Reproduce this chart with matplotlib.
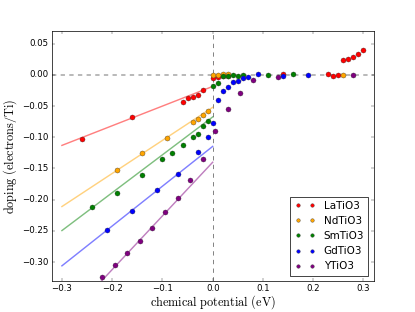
import numpy as np
import matplotlib
matplotlib.use('Agg')
import matplotlib.pyplot as plt

plt.style.use('classic')
plt.rcParams['mathtext.fontset'] = 'cm'

names = ['LaTiO3', 'NdTiO3', 'SmTiO3', 'GdTiO3', 'YTiO3']
colors = ['red', 'orange', 'green', 'blue', 'purple']

mu_la = [-0.26, -0.16, -0.06, -0.05, -0.04, -0.03, -0.02, 0.0, 0.01, 0.02, 0.03,
         0.14, 0.23, 0.24, 0.25, 0.26, 0.27, 0.28, 0.29, 0.30]
dop_la = [-0.103, -0.068, -0.043, -0.037, -0.036, -0.032, -0.025, -0.005, -0.003, -0.002, -0.001,
          0.001, 0.001, -0.001, 0.0, 0.0235, 0.025, 0.029, 0.033, 0.040]

mu_nd = [-0.19, -0.14, -0.09, -0.04, -0.03, -0.02, -0.01, 0.0, 0.01, 0.02, 0.03, 0.26]
dop_nd = [-0.153, -0.1256, -0.1017, -0.075, -0.070, -0.064, -0.0575, 0.0, 0.0, 0.001, 0.002, 0.0]

mu_sm = [-0.24, -0.19, -0.14, -0.10, -0.08, -0.06, -0.04, -0.03, -0.02, -0.01,
         0.0, 0.01, 0.02, 0.03, 0.04, 0.05, 0.06, 0.11, 0.16]
dop_sm = [-0.2125, -0.1885, -0.160, -0.135, -0.1246, -0.113, -0.0995, -0.095, -0.0825, -0.0735,
          -0.0186, -0.0133, -0.002, -0.002, 0.0, -0.001, 0.0, 0.0, 0.001]

mu_gd = [-0.21, -0.16, -0.11, -0.07, -0.03, -0.01, 0.0, 0.01, 0.02, 0.03, 0.04,
         0.05, 0.06, 0.07, 0.09, 0.14, 0.19]
dop_gd = [-0.248, -0.218, -0.185, -0.159, -0.124, -0.099, -0.0767, -0.040, -0.0266, -0.0196, -0.0117,
          -0.0095, -0.0048, -0.0026, 0.0016, -0.001, 0.0]

mu_y = [-0.22, -0.195, -0.17, -0.145, -0.12, -0.095, -0.07, -0.045, -0.02, 0.005,
        0.03, 0.055, 0.08, 0.13, 0.28]
dop_y = [-0.3237, -0.305, -0.285, -0.267, -0.245, -0.2204, -0.1975, -0.168, -0.135, -0.090,
         -0.054, -0.0287, -0.009, -0.0026, 0.0]

# linear fits on the hole-doped side (slope, intercept)
fit_slope = [0.315, 0.53, 0.607, 0.638, 0.86]
fit_icpt = [-0.0185, -0.052, -0.0674, -0.1146, -0.140]

mus = [mu_la, mu_nd, mu_sm, mu_gd, mu_y]
dops = [dop_la, dop_nd, dop_sm, dop_gd, dop_y]

dpi = 415 / 8.0
fig = plt.figure(figsize=(8, 312 / dpi), dpi=dpi)
ax = fig.add_subplot(111)

ax.axhline(0, color='0.7', ls='--', lw=2.5, zorder=1)
ax.axvline(0, color='0.45', ls='--', lw=1.2, zorder=1)

xfit = np.array([-0.3, 0.0])
for s, b, c in zip(fit_slope, fit_icpt, colors):
    ax.plot(xfit, s * xfit + b, '-', color=c, alpha=0.5, lw=2, zorder=2)

for mu, d, c, n in zip(mus, dops, colors, names):
    ax.plot(mu, d, 'o', color=c, ms=7, mec='0.2', mew=0.5, label=n, zorder=3)

ax.set_xlim(-0.32, 0.32)
ax.set_ylim(-0.33, 0.07)
ax.set_xticks(np.arange(-0.3, 0.31, 0.1))
ax.set_yticks(np.arange(-0.30, 0.051, 0.05))
ax.set_xlabel(r'$\mathrm{chemical\ potential\ (eV)}$', fontsize=17, labelpad=1)
ax.set_ylabel(r'$\mathrm{doping\ (electrons/Ti)}$', fontsize=17)
ax.legend(loc='lower right', numpoints=2, markerscale=0.7, fontsize=14.4)

fig.savefig('out.png', dpi=dpi)
